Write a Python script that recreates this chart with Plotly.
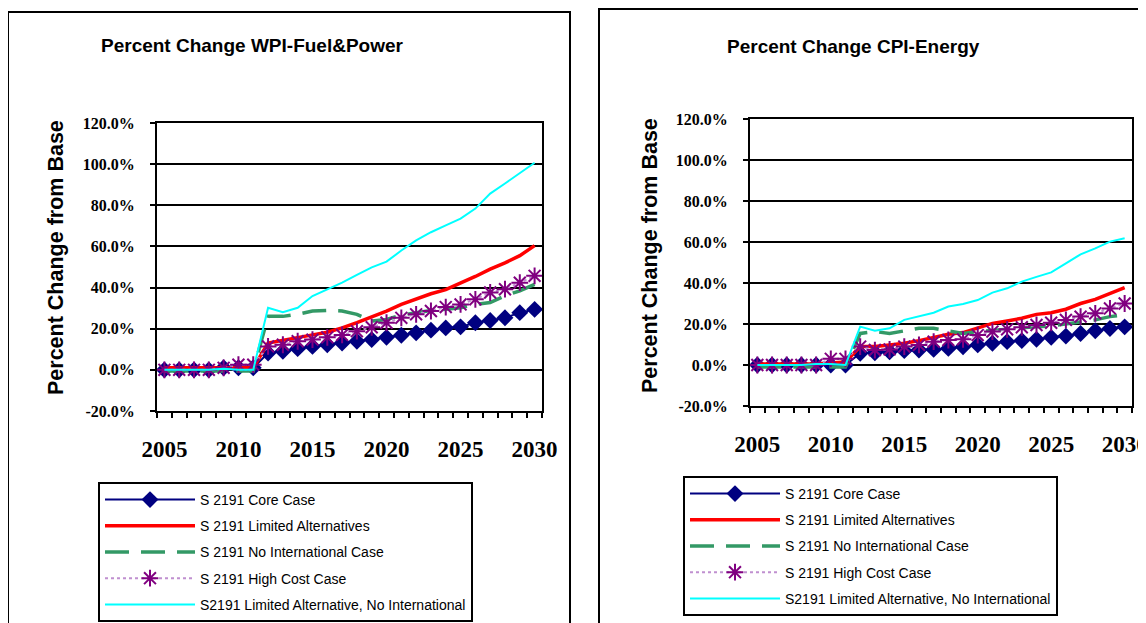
import plotly.graph_objects as go

W, H = 1146, 623
OFF = 8  # the page body adds an 8px margin, so layout pixels are shifted back by it

years = list(range(2005, 2031))
label_years = [2005, 2010, 2015, 2020, 2025, 2030]
y_ticks = [-20, 0, 20, 40, 60, 80, 100, 120]
y_ticktext = ["-20.0%", "0.0%", "20.0%", "40.0%", "60.0%", "80.0%", "100.0%", "120.0%"]

series_names = [
    "S 2191 Core Case",
    "S 2191 Limited Alternatives",
    "S 2191 No International Case",
    "S 2191 High Cost Case",
    "S2191 Limited Alternative, No International",
]

# ---- Percent Change WPI-Fuel&Power (percent) ----
wpi_core = [0, 0, 0, 0, 1, 1, 1,
            8.2, 9, 10.3, 11.4, 12.2, 13, 13.9, 14.7, 15.8, 16.8, 18, 19.3, 20.4, 20.9, 22.9, 24, 25.3, 27.8, 29.4]
wpi_limited = [1, 1, 1, 1, 1, 1, 1,
               13, 14.2, 15.5, 17, 18.3, 20.4, 23, 25.6, 28.6, 31.8, 34.6, 37, 39, 42, 45.4, 49, 52, 55.5, 60.4]
wpi_noint = [-0.5, -0.5, -0.5, -0.5, -0.5, -0.5, -0.5,
             26, 26, 27, 28.6, 28.9, 28.6, 27, 23.7, 24.5, 26.6, 27.8, 28.9, 29.4, 30.2, 31.8, 32.7, 36, 38.4, 41.6]
wpi_highcost = [0, 0, 0, 0, 1, 2.5, 2.5,
                11.4, 12.2, 13.9, 14.7, 15.8, 17, 18.8, 20.7, 22.9, 25.3, 27, 28.6, 30.5, 31.8, 34.3, 37.6, 39.2, 42.4, 45.7]
wpi_lim_noint = [0, 0, 0, 0, 0.5, 0, 0,
                 30.2, 28, 30.2, 35.9, 39.2, 42.4, 46.2, 49.8, 52.6, 58, 62.9, 66.9, 70.2, 73.5, 78.4, 85.7, 90.6, 95.5, 100.7]

# ---- Percent Change CPI-Energy (percent) ----
cpi_core = [0, 0, 0, 0, 0, 0, 0,
            5.7, 6, 6.5, 7, 7.3, 7.6, 8.1, 8.9, 9.8, 10.6, 11.4, 11.9, 12.5, 13.5, 14.1, 15.4, 16.7, 17.8, 18.6]
cpi_limited = [0.5, 0.5, 0.5, 0.5, 0.5, 1, 1.5,
               9, 9, 9.8, 10.6, 11.9, 13.5, 15, 15.8, 17.9, 20.3, 21.5, 22.8, 24.7, 25.5, 27.2, 30, 32, 35, 37.7]
cpi_noint = [-1, -1, -1, -1, -1, -1, -1,
             15.4, 16.3, 15.4, 16.6, 17.9, 17.9, 16.7, 15.4, 16.3, 17, 17.4, 18.2, 18.7, 19, 20, 20.6, 22, 23.6, 24.4]
cpi_highcost = [0, 0, 0, 0, 0, 3, 3,
                9, 7.3, 7.6, 9, 9.8, 11.4, 12.2, 12.5, 14.6, 16.3, 17.4, 18.4, 19.5, 20.6, 22, 23.6, 25.2, 27.6, 30]
cpi_lim_noint = [0, 0, 0, 0, 0.5, 0.5, 0,
                 18.7, 16.7, 17.9, 22, 23.6, 25.5, 28.5, 29.8, 31.7, 35.3, 37.4, 40.7, 43, 45.2, 49.6, 54, 56.9, 60.2, 61.8]

styles = [
    dict(mode="lines+markers", line=dict(color="#000080", width=2),
         marker=dict(symbol="diamond", size=13, color="#000080")),
    dict(mode="lines", line=dict(color="#FF0000", width=3.5)),
    dict(mode="lines", line=dict(color="#339966", width=3.5, dash="24px,12px")),
    dict(mode="lines+markers", line=dict(color="#C090D0", width=2, dash="dot"),
         marker=dict(symbol="asterisk-open", size=14, color="#800080", line=dict(color="#800080", width=2))),
    dict(mode="lines", line=dict(color="#00FFFF", width=2)),
]

panels = [
    dict(vals=[wpi_core, wpi_limited, wpi_noint, wpi_highcost, wpi_lim_noint], xa="x", ya="y", lg="legend"),
    dict(vals=[cpi_core, cpi_limited, cpi_noint, cpi_highcost, cpi_lim_noint], xa="x2", ya="y2", lg="legend2"),
]

fig = go.Figure()
for p, panel in enumerate(panels):
    for k, (name, vals) in enumerate(zip(series_names, panel["vals"])):
        st = styles[k]
        fig.add_trace(go.Scatter(
            x=years, y=vals, name=name, mode=st["mode"], line=st["line"],
            marker=st.get("marker"), xaxis=panel["xa"], yaxis=panel["ya"],
            legend=panel["lg"], legendgroup=f"p{p}s{k}",
        ))


def px(x):
    return (x - OFF) / W


def py(y):
    return 1 - (y - OFF) / H


def xaxis_style(x0, x1, anchor):
    return dict(
        domain=[px(x0), px(x1)], anchor=anchor, range=[2004.5, 2030.5], automargin=False,
        tickmode="array", tickvals=label_years, ticks="", showgrid=False, zeroline=False,
        showline=True, linecolor="black", linewidth=2, mirror=True,
        tickfont=dict(family="Liberation Serif", size=23, color="black", weight="bold"),
        ticklabelstandoff=16, ticklabeloverflow="allow",
        minor=dict(tick0=2004.5, dtick=1, ticks="outside", ticklen=5, tickwidth=2,
                   tickcolor="black", showgrid=False),
    )


def yaxis_style(top, bottom, anchor):
    return dict(
        domain=[py(bottom), py(top)], anchor=anchor, range=[-20, 120], automargin=False,
        tickmode="array", tickvals=y_ticks, ticktext=y_ticktext,
        ticks="outside", ticklen=5, tickwidth=2, tickcolor="black",
        showgrid=True, gridcolor="black", gridwidth=2, zeroline=False,
        showline=True, linecolor="black", linewidth=2, mirror=True,
        tickfont=dict(family="Liberation Serif", size=16, color="black", weight="bold"),
        ticklabelstandoff=12,
    )


def legend_style(x, top):
    return dict(
        x=px(x), y=py(top), xanchor="left", yanchor="top",
        bordercolor="black", borderwidth=2, bgcolor="white",
        font=dict(family="Liberation Sans", size=14, color="black"),
        itemwidth=90, traceorder="grouped", tracegroupgap=5,
    )


title_font = dict(family="Liberation Sans", size=19, color="black", weight="bold")
ytitle_font = dict(family="Liberation Sans", size=21.5, color="black", weight="bold")

fig.update_layout(
    width=W, height=H, margin=dict(l=0, r=0, t=0, b=0),
    paper_bgcolor="white", plot_bgcolor="white",
    xaxis=xaxis_style(157, 542, "y"),
    yaxis=yaxis_style(123, 411, "x"),
    xaxis2=xaxis_style(750, 1132, "y2"),
    yaxis2=yaxis_style(119, 406, "x2"),
    legend=legend_style(98, 482),
    legend2=legend_style(683, 476),
    shapes=[
        dict(type="rect", xref="paper", yref="paper", x0=px(8), x1=px(570), y0=-0.1, y1=py(12),
             line=dict(color="black", width=2), layer="below"),
        dict(type="rect", xref="paper", yref="paper", x0=px(599), x1=1.1, y0=-0.1, y1=py(9),
             line=dict(color="black", width=2), layer="below"),
    ],
    annotations=[
        dict(text="Percent Change WPI-Fuel&Power", xref="paper", yref="paper", x=px(252), y=py(46),
             showarrow=False, font=title_font, xanchor="center", yanchor="middle"),
        dict(text="Percent Change CPI-Energy", xref="paper", yref="paper", x=px(853), y=py(47),
             showarrow=False, font=title_font, xanchor="center", yanchor="middle"),
        dict(text="Percent Change from Base", xref="paper", yref="paper", x=px(56), y=py(258),
             showarrow=False, font=ytitle_font, textangle=-90, xanchor="center", yanchor="middle"),
        dict(text="Percent Change from Base", xref="paper", yref="paper", x=px(650), y=py(256),
             showarrow=False, font=ytitle_font, textangle=-90, xanchor="center", yanchor="middle"),
    ],
)

fig.write_html("out.html")
